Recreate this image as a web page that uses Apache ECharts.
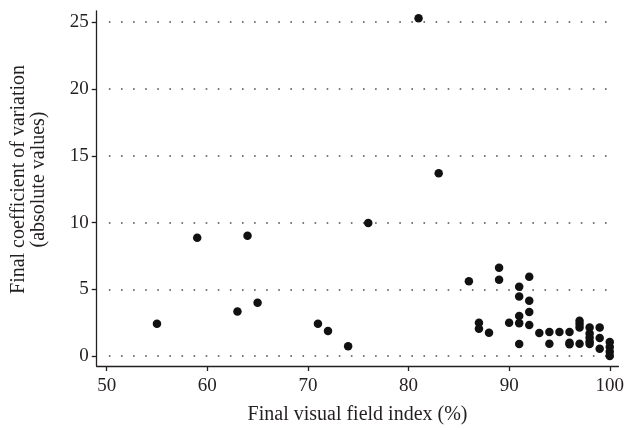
<!DOCTYPE html>
<html>
<head>
<meta charset="utf-8">
<script src="https://cdn.jsdelivr.net/npm/echarts@6/dist/echarts.min.js"></script>
<style>
html,body{margin:0;padding:0;background:#fff;}
#chart{width:627px;height:430px;}
</style>
</head>
<body>
<div id="chart"></div>
<script>
// Final visual field index (%)
const vfIndex = [55, 59, 63, 64, 65, 71, 72, 74, 76, 81, 83,
  86, 87, 87, 88, 89, 89, 90,
  91, 91, 91, 91, 91,
  92, 92, 92, 92,
  93, 94, 94, 95,
  96, 96, 96,
  97, 97, 97, 97,
  98, 98, 98, 98, 98,
  99, 99, 99,
  100, 100, 100, 100];
// Final coefficient of variation (absolute values)
const cvValues = [2.42, 8.87, 3.34, 9.02, 4.0, 2.42, 1.88, 0.74, 9.96, 25.3, 13.7,
  5.6, 2.5, 2.05, 1.75, 6.62, 5.71, 2.49,
  5.19, 4.47, 3.0, 2.47, 0.9,
  5.95, 4.15, 3.3, 2.33,
  1.73, 1.8, 0.92, 1.8,
  1.8, 1.0, 0.88,
  2.65, 2.4, 2.15, 0.92,
  2.15, 1.7, 1.4, 1.1, 0.9,
  2.15, 1.35, 0.55,
  1.05, 0.68, 0.32, 0.0];
const xTicks = [50, 60, 70, 80, 90, 100];
const yTicks = [0, 5, 10, 15, 20, 25];

const points = vfIndex.map((x, i) => [x, cvValues[i]]);
const font = 'Liberation Serif, Times New Roman, serif';
const ink = '#231f20';

const chart = echarts.init(document.getElementById('chart'), null, {renderer: 'canvas'});
chart.setOption({
  animation: false,
  backgroundColor: '#fff',
  grid: {left: 96.7, right: 7, top: 11, bottom: 60.7, containLabel: false},
  xAxis: {
    type: 'value',
    min: 49.01, max: 100.86,
    name: 'Final visual field index (%)',
    nameLocation: 'middle',
    nameGap: 39,
    nameTextStyle: {fontFamily: font, fontSize: 20, color: ink},
    axisLine: {show: true, onZero: false, lineStyle: {color: ink, width: 1.3}},
    axisTick: {show: true, inside: false, length: 5, customValues: xTicks, lineStyle: {color: ink, width: 1.3}},
    axisLabel: {customValues: xTicks, margin: 11, fontFamily: font, fontSize: 19, color: ink},
    splitLine: {show: false}
  },
  yAxis: {
    type: 'value',
    min: -0.74, max: 25.84,
    name: 'Final coefficient of variation\n(absolute values)',
    nameLocation: 'middle',
    nameRotate: 90,
    nameGap: 48,
    nameTextStyle: {fontFamily: font, fontSize: 20, color: ink, lineHeight: 20, padding: [0, 0, 0, 18]},
    axisLine: {show: true, onZero: false, lineStyle: {color: ink, width: 1.3}},
    axisTick: {show: true, inside: false, length: 5, customValues: yTicks, lineStyle: {color: ink, width: 1.3}},
    axisLabel: {customValues: yTicks, margin: 8, fontFamily: font, fontSize: 19, color: ink},
    splitLine: {show: false}
  },
  series: [{
    type: 'scatter',
    data: points,
    symbol: 'circle',
    symbolSize: 8.5,
    itemStyle: {color: '#111', opacity: 1},
    z: 5,
    markLine: {
      silent: true,
      symbol: 'none',
      label: {show: false},
      lineStyle: {color: '#7a7a7a', width: 1.8, type: [1.6, 10.5]},
      z: 1,
      data: yTicks.map(v => [{coord: [50.22, v]}, {coord: [100.3, v]}])
    }
  }]
});
</script>
</body>
</html>
